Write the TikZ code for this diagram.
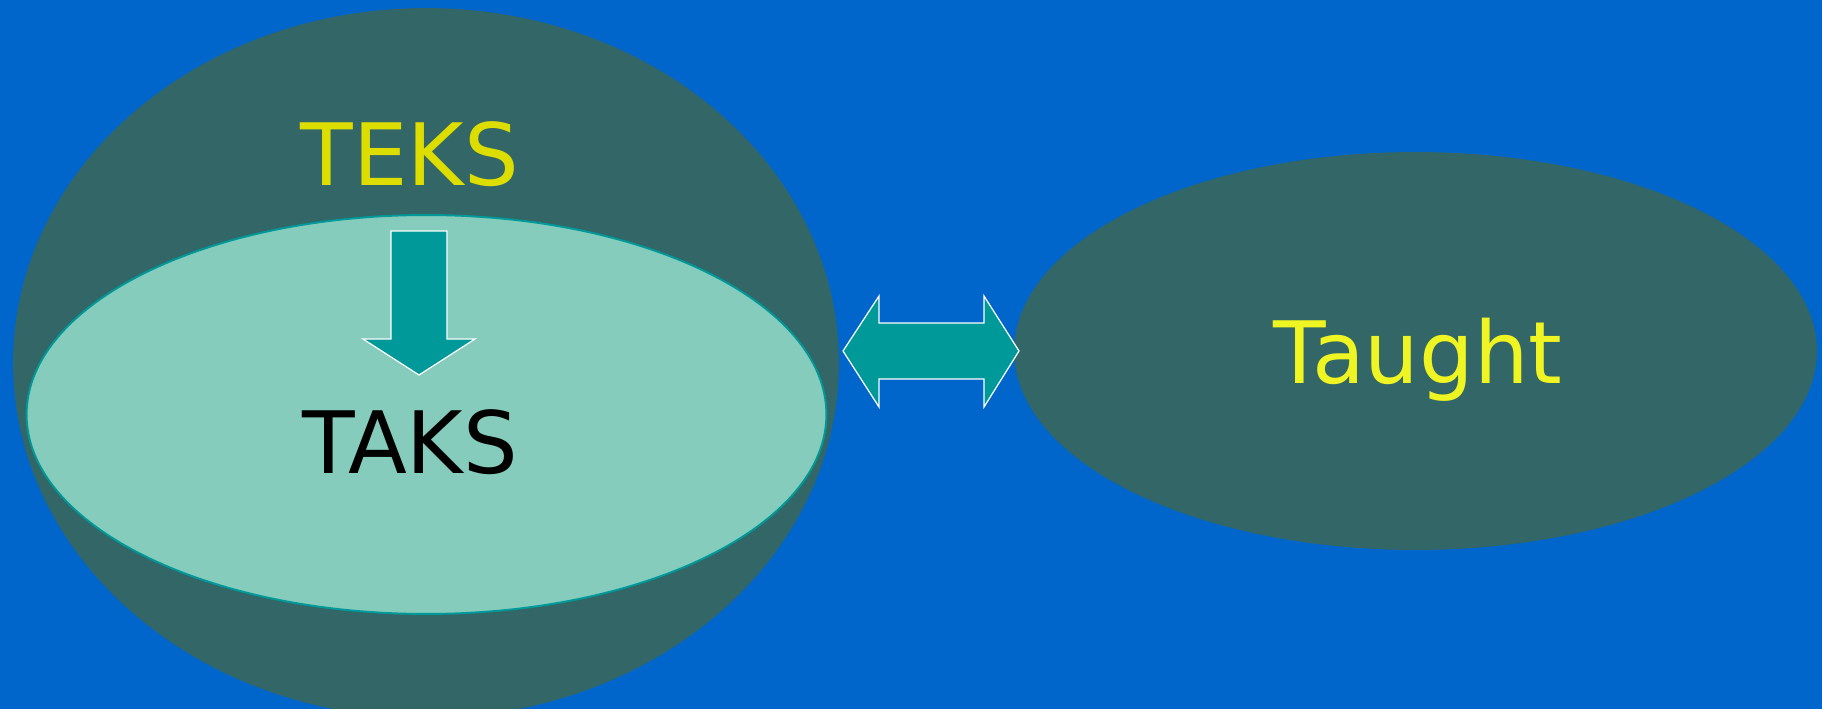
\documentclass[tikz,border=0pt]{standalone}
\usepackage{fontspec}
\setmainfont{DejaVu Sans}
\usepackage{tikz}
\definecolor{slideblue}{RGB}{0, 102, 204}
\definecolor{darkteal}{RGB}{51, 102, 102}
\definecolor{paleteal}{RGB}{134, 204, 188}
\definecolor{arrowteal}{RGB}{0, 153, 153}
\definecolor{teksyellow}{RGB}{221, 221, 0}
\definecolor{taughtyellow}{RGB}{238, 245, 34}
\usetikzlibrary{shapes.geometric}

\begin{document}
\begin{tikzpicture}[x=0.02cm, y=-0.02cm, every node/.style={font=\fontsize{49}{59}\selectfont, inner sep=0pt}]
    \fill [slideblue] (0,0) rectangle (1822,709);
    \useasboundingbox (0,0) rectangle (1822,709);

    \node [ellipse, fill=darkteal, minimum width=16.52cm, minimum height=14.2cm] (teksarea) at (426,363) {};
    \node [ellipse, fill=paleteal, draw=arrowteal, line width=1.1pt, minimum width=16cm, minimum height=7.98cm] (taksarea) at (426.5,414.5) {};
    \node [ellipse, fill=darkteal, minimum width=16.06cm, minimum height=7.96cm] (taughtarea) at (1415.5,351) {};

    \node [anchor=base, text=teksyellow] (teks) at (410,186) {TEKS};
    \node [anchor=base, text=black] (taks) at (410,473) {TAKS};
    \node [anchor=base, text=taughtyellow] (taught) at (1418,383) {Taught};

    \filldraw [fill=arrowteal, draw=white, line width=0.7pt, line join=miter] (391,231) -- (447,231) -- (447,339) -- (475,339) -- (419,375) -- (363,339) -- (391,339) -- cycle;
    \filldraw [fill=arrowteal, draw=white, line width=0.7pt, line join=miter] (843,351) -- (879,296) -- (879,323) -- (984,323) -- (984,296) -- (1019,351) -- (984,407) -- (984,379) -- (879,379) -- (879,407) -- cycle;
\end{tikzpicture}
\end{document}
